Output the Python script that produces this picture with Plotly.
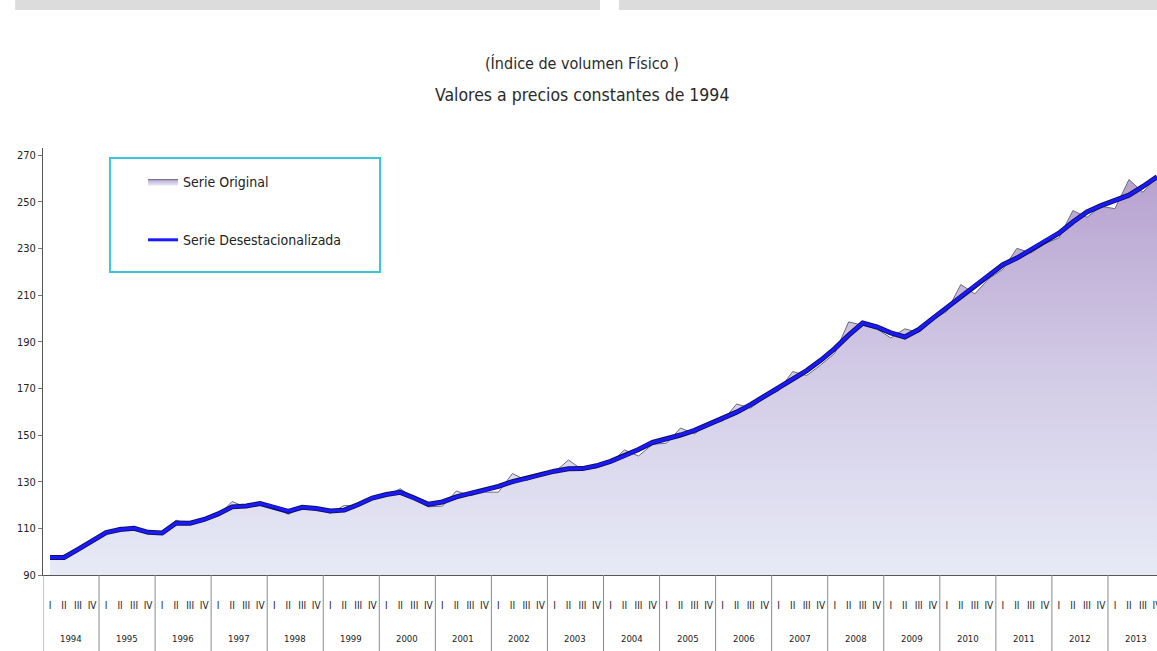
import plotly.graph_objects as go

years = ["1994", "1995", "1996", "1997", "1998", "1999", "2000", "2001", "2002", "2003",
         "2004", "2005", "2006", "2007", "2008", "2009", "2010", "2011", "2012", "2013"]
quarters = ["I", "II", "III", "IV"]

serie_original = [
    97.2, 98.5, 100.5, 104.0,
    107.5, 110.5, 109.5, 108.0,
    107.5, 113.5, 111.5, 113.5,
    115.5, 121.5, 119.0, 120.5,
    119.5, 116.0, 119.0, 118.5,
    116.5, 119.8, 119.5, 122.5,
    124.0, 127.0, 122.5, 119.2,
    119.5, 126.0, 124.0, 125.5,
    125.5, 133.5, 130.5, 132.5,
    134.0, 139.3, 135.0, 136.0,
    138.0, 143.6, 141.0, 146.0,
    146.5, 153.0, 150.5, 155.0,
    156.0, 163.3, 161.5, 166.0,
    169.0, 177.2, 175.5, 180.0,
    185.0, 198.5, 197.0, 195.5,
    191.6, 195.5, 194.0, 199.5,
    203.0, 214.5, 210.5, 217.0,
    221.0, 230.0, 228.0, 232.0,
    234.5, 246.2, 243.3, 248.0,
    247.0, 259.5, 254.0, 261.0,
]

serie_desestacionalizada = [
    97.5, 97.5, 101.0, 104.5,
    108.2, 109.5, 110.0, 108.3,
    108.0, 112.3, 112.2, 113.8,
    116.2, 119.2, 119.6, 120.6,
    119.2, 117.3, 119.0, 118.5,
    117.4, 117.8, 120.2, 123.0,
    124.5, 125.4, 123.0, 120.3,
    121.3, 123.5, 125.0, 126.3,
    128.0, 130.0, 131.3, 133.0,
    134.5, 135.5, 135.6, 136.8,
    138.7, 141.0, 143.8, 146.8,
    148.3, 150.0, 152.0, 154.6,
    157.2, 159.8, 163.0, 166.5,
    170.3, 174.0, 177.6, 182.0,
    187.0, 192.8, 198.0, 196.3,
    193.8, 192.0, 195.2, 200.0,
    204.5, 209.3, 214.0, 218.5,
    223.0, 225.8, 229.5, 233.3,
    236.5, 241.3, 245.6, 248.3,
    250.5, 252.8, 256.5, 260.7,
]

y_ticks = [90, 110, 130, 150, 170, 190, 210, 230, 250, 270]

title_line1 = "(Índice de volumen Físico )"
title_line2 = "Valores a precios constantes de 1994"

# unique category keys (year + quarter) with the quarter shown as tick text
x_keys = [y + "-" + q for y in years for q in quarters]
x_text = [q for _ in years for q in quarters]
nq = len(quarters)

NARROW = "DejaVu Sans Condensed, Liberation Sans Narrow, Arial Narrow, sans-serif"

fig = go.Figure()

fig.add_trace(go.Scatter(
    x=x_keys, y=serie_original, name="Serie Original",
    mode="lines", line=dict(color="#6b6b7a", width=1),
    fill="tozeroy",
    fillgradient=dict(type="vertical", start=90, stop=262,
                      colorscale=[[0, "#e7eaf6"], [0.5, "#d2cbe6"], [1, "#b7a1cf"]]),
    legendgroup="a",
))
fig.add_trace(go.Scatter(
    x=x_keys, y=serie_desestacionalizada, name="Serie Desestacionalizada",
    mode="lines", line=dict(color="#10106a", width=5), showlegend=False, hoverinfo="skip",
))
fig.add_trace(go.Scatter(
    x=x_keys, y=serie_desestacionalizada, name="Serie Desestacionalizada",
    mode="lines", line=dict(color="#1a1aff", width=3),
    legendgroup="b",
))

# plot area: x 43..1157 px, y 148..575 px
PLOT_H = 427.0

def py(px):
    return (575.0 - px) / PLOT_H

annotations = [
    dict(text=title_line1, xref="paper", yref="paper", x=0.484, y=py(63),
         xanchor="center", yanchor="middle", showarrow=False,
         font=dict(family=NARROW, size=16, color="#2a2a2a")),
    dict(text=title_line2, xref="paper", yref="paper", x=0.484, y=py(95),
         xanchor="center", yanchor="middle", showarrow=False,
         font=dict(family=NARROW, size=17.5, color="#2a2a2a")),
]
for k, yr in enumerate(years):
    annotations.append(dict(
        text=yr, xref="x", yref="paper", x=k * nq + (nq - 1) / 2.0, y=py(638),
        xanchor="center", yanchor="middle", showarrow=False,
        font=dict(family=NARROW, size=9.5, color="#222"),
    ))

shapes = [
    dict(type="rect", xref="paper", yref="paper", x0=0.0601, x1=0.3025, y0=py(272), y1=py(158),
         line=dict(color="#3cc6d6", width=2), fillcolor="rgba(0,0,0,0)"),
    dict(type="rect", xref="paper", yref="paper", x0=-0.025, x1=0.5, y0=py(10), y1=py(0),
         line=dict(width=0), fillcolor="#dcdcdc", layer="below"),
    dict(type="rect", xref="paper", yref="paper", x0=0.517, x1=1.0, y0=py(10), y1=py(0),
         line=dict(width=0), fillcolor="#dcdcdc", layer="below"),
]
for k in range(len(years) + 1):
    shapes.append(dict(
        type="line", xref="x", yref="paper", x0=k * nq - 0.5, x1=k * nq - 0.5,
        y0=0, y1=py(651), line=dict(color="#8a8a8a", width=1),
    ))

fig.update_layout(
    width=1157, height=651,
    margin=dict(l=43, r=0, t=148, b=76),
    paper_bgcolor="white", plot_bgcolor="white",
    showlegend=True,
    legend=dict(
        x=0.0898, y=py(166), xanchor="left", yanchor="top",
        bgcolor="rgba(0,0,0,0)", borderwidth=0,
        font=dict(family=NARROW, size=14, color="#222"),
        tracegroupgap=37, traceorder="grouped",
    ),
    font=dict(family=NARROW),
    annotations=annotations,
    shapes=shapes,
)

fig.update_yaxes(
    range=[90, 273], tickvals=y_ticks, showgrid=False, zeroline=False,
    showline=True, linecolor="#555", linewidth=1,
    ticks="outside", ticklen=4, tickcolor="#777",
    tickfont=dict(family=NARROW, size=11, color="#222"),
    automargin=False,
)
fig.update_xaxes(
    type="category", range=[-0.5, len(x_keys) - 1.0],
    tickmode="array", tickvals=x_keys, ticktext=x_text, tickangle=0,
    showgrid=False, zeroline=False,
    showline=True, linecolor="#555", linewidth=1,
    ticks="outside", ticklen=21, tickcolor="rgba(0,0,0,0)",
    tickfont=dict(family=NARROW, size=10, color="#222"),
    automargin=False,
)

fig.write_html(
    "out.html",
    config={"displayModeBar": False},
    post_script="document.body.style.margin='0';document.body.style.overflow='hidden';",
)
